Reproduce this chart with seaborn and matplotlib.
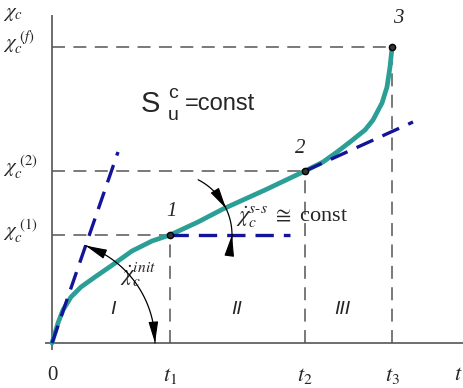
import numpy as np
import pandas as pd
import matplotlib
matplotlib.use("Agg")
import matplotlib.pyplot as plt
import seaborn as sns

# ---- data ----
curve_x = [0.00, 0.03, 0.06, 0.11, 0.19, 0.29, 0.43, 0.59, 0.80, 1.00, 1.18, 1.46, 1.71, 2.13,
           2.53, 2.71, 2.85, 2.98, 3.13, 3.21, 3.30, 3.35, 3.38, 3.40]
curve_y = [0.00, 0.10, 0.20, 0.33, 0.46, 0.56, 0.66, 0.77, 0.92, 1.02, 1.08, 1.21, 1.34, 1.53,
           1.72, 1.81, 1.91, 2.01, 2.13, 2.23, 2.40, 2.56, 2.76, 2.95]

t_pts = [1.18, 2.53, 3.40]          # t1, t2, t3
chi_pts = [1.08, 1.72, 2.96]        # chi(1), chi(2), chi(f)
point_labels = ["1", "2", "3"]
x_tick_labels = ["$t_1$", "$t_2$", "$t_3$"]
y_tick_labels = [r"$\chi_c^{\ (1)}$", r"$\chi_c^{\ (2)}$", r"$\chi_c^{\ (f)}$"]

init_tan_x = [0.00, 0.66]
init_tan_y = [0.00, 1.91]
flat_x = [1.18, 2.38]
flat_y = [1.08, 1.08]
ss_tan_x = [2.53, 3.61]
ss_tan_y = [1.72, 2.21]

region_labels = ["I", "II", "III"]
region_x = [0.61, 1.85, 2.90]

# ---- style ----
sns.set_theme(style="white")
plt.rcParams["font.family"] = ["DejaVu Sans"]
plt.rcParams["mathtext.fontset"] = "stix"

TEAL = "#2b9f96"
BLUE = "#14149a"
GRAY = "#555555"

fig = plt.figure(figsize=(4.63, 3.88), dpi=100)
ax = fig.add_axes([0, 0, 1, 1])
ax.set_xlim(-0.52, 4.11)
ax.set_ylim(-0.45, 3.43)
ax.axis("off")

# axes lines
ax.plot([-0.07, 4.11], [0, 0], color=GRAY, lw=1.2, solid_capstyle="butt")
ax.plot([0, 0], [-0.07, 3.28], color=GRAY, lw=1.2, solid_capstyle="butt")

# guide lines
ax.hlines(chi_pts, [0, 0, 0], t_pts, colors=GRAY, lw=1.1, linestyles=(0, (8.5, 5.5)))
ax.vlines(t_pts, [0, 0, 0], chi_pts, colors=GRAY, lw=1.1, linestyles=(0, (8.5, 5.5)))

# main curve
df = pd.DataFrame({"t": curve_x, "chi": curve_y})
sns.lineplot(data=df, x="t", y="chi", ax=ax, color=TEAL, lw=3.4, sort=False,
             estimator=None, zorder=4)
ax.lines[-1].set_solid_joinstyle("round")

# tangent lines (drawn over the curve)
for xs, ys in [(init_tan_x, init_tan_y), (flat_x, flat_y), (ss_tan_x, ss_tan_y)]:
    sns.lineplot(x=xs, y=ys, ax=ax, color=BLUE, lw=2.4, sort=False,
                 estimator=None, dashes=False, zorder=4.5)
for line in ax.lines[-3:]:
    line.set_dashes((5.5, 3.0))

# points
ax.plot(t_pts, chi_pts, "o", ms=4.5, mfc="#333333", mec="black", mew=1.0, zorder=5)

# point labels
offs = [(0.02, 0.23), (-0.05, 0.23), (0.06, 0.29)]
for x, y, lab, (dx, dy) in zip(t_pts, chi_pts, point_labels, offs):
    ax.text(x + dx, y + dy, lab, fontsize=15, family="Liberation Serif",
            style="italic", ha="center", va="center")

# tick labels
ax.text(0, -0.33, "0", fontsize=15, family="Liberation Serif", ha="center", va="center")
for x, lab in zip(t_pts, x_tick_labels):
    ax.text(x, -0.33, lab, fontsize=16, ha="center", va="center")
ax.text(4.06, -0.31, "$t$", fontsize=16, ha="center", va="center")

for y, lab in zip(chi_pts, y_tick_labels):
    ax.text(-0.49, y + 0.04, lab, fontsize=15, ha="left", va="center")
ax.text(-0.49, 3.30, r"$\chi_c$", fontsize=15, ha="left", va="center")

# region labels
for x, lab in zip(region_x, region_labels):
    ax.text(x, 0.33, lab, fontsize=14, family="Liberation Sans", style="italic",
            ha="center", va="center")

# S_u^c = const
ax.text(0.98, 2.39, "S", fontsize=21, family="Liberation Sans", ha="center", va="center")
ax.text(1.21, 2.50, "c", fontsize=14, family="Liberation Sans", ha="center", va="center")
ax.text(1.21, 2.28, "u", fontsize=14, family="Liberation Sans", ha="center", va="center")
ax.text(1.33, 2.39, "=const", fontsize=17, family="Liberation Sans", ha="left", va="center")

# rate labels
ax.text(0.68, 0.68, r"$\dot{\chi}_c^{init}$", fontsize=16, ha="left", va="center")
ax.text(1.84, 1.27, r"$\dot{\chi}_c^{s\text{-}s}\ \cong$ const", fontsize=16,
        family="Liberation Serif", ha="left", va="center")

# angle arcs
def arc(cx, cy, r, a0, a1, n=60):
    a = np.radians(np.linspace(a0, a1, n))
    return cx + r * np.cos(a), cy + r * np.sin(a)

def head(cx, cy, r, a_from, a_to):
    x0, y0 = arc(cx, cy, r, a_from, a_from, 1)
    x1, y1 = arc(cx, cy, r, a_to, a_to, 1)
    ax.annotate("", xy=(x1[0], y1[0]), xytext=(x0[0], y0[0]),
                arrowprops=dict(arrowstyle="-|>,head_length=1.1,head_width=0.25",
                                color="black", lw=0.8, shrinkA=0, shrinkB=0),
                zorder=6)

ang0 = np.degrees(np.arctan2(init_tan_y[1], init_tan_x[1]))
xa, ya = arc(0, 0, 1.03, ang0, 0)
ax.plot(xa, ya, color="black", lw=0.9, zorder=6)
head(0, 0, 1.03, ang0 - 9, ang0)
head(0, 0, 1.03, 9, 0)

ang_ss = np.degrees(np.arctan2(chi_pts[1] - chi_pts[0], t_pts[1] - t_pts[0]))
xb, yb = arc(t_pts[0], chi_pts[0], 0.62, 63, -17)
ax.plot(xb, yb, color="black", lw=0.9, zorder=6)
head(t_pts[0], chi_pts[0], 0.62, ang_ss + 13, ang_ss)
head(t_pts[0], chi_pts[0], 0.62, -15, 0)

fig.savefig("out.png", dpi=100)
